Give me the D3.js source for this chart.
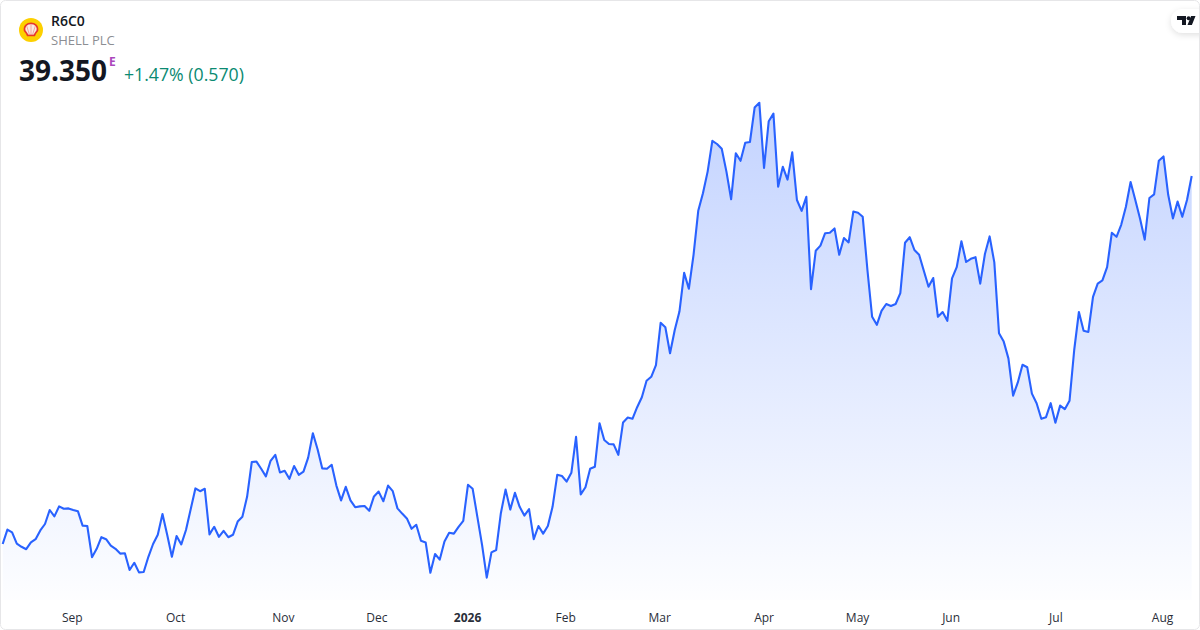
<!DOCTYPE html>
<html>
<head>
<meta charset="utf-8">
<title>R6C0</title>
<script src="https://cdn.jsdelivr.net/npm/d3@7"></script>
<style>
  html, body { margin: 0; padding: 0; background: #fff; }
  svg { display: block; font-family: "Open Sans", sans-serif; }
  .x-axis path, .x-axis line { display: none; }
  .x-axis text { font-size: 12px; fill: #2a2e39; }
</style>
</head>
<body>
<svg id="chart" width="1200" height="630"></svg>
<script>
// closing prices, one per session
var prices = [
  30.15,30.51,30.44,30.16,30.08,30.02,30.19,30.27,30.49,30.65,31.00,30.84,31.09,31.03,31.04,31.00,
  30.97,30.61,30.60,29.82,30.03,30.32,30.27,30.11,30.03,29.91,29.92,29.50,29.68,29.44,29.45,29.83,
  30.15,30.38,30.90,30.38,29.83,30.35,30.14,30.50,31.02,31.54,31.47,31.53,30.39,30.58,30.33,30.48,
  30.32,30.38,30.71,30.83,31.33,32.20,32.21,32.03,31.84,32.23,32.38,31.94,31.98,31.78,32.10,31.88,
  31.96,32.31,32.92,32.52,32.04,32.03,32.13,31.61,31.24,31.58,31.24,31.07,31.09,31.10,30.98,31.34,
  31.46,31.22,31.61,31.47,31.04,30.91,30.79,30.53,30.63,30.23,30.19,29.43,29.90,29.76,30.21,30.43,
  30.41,30.58,30.73,31.63,31.53,30.83,30.13,29.31,29.94,30.00,30.92,31.51,31.01,31.43,31.08,30.86,
  31.02,30.27,30.60,30.41,30.60,31.08,31.88,31.85,31.71,31.93,32.83,31.39,31.57,32.03,32.08,33.17,
  32.75,32.65,32.64,32.38,33.19,33.31,33.28,33.57,33.82,34.23,34.33,34.62,35.68,35.57,34.92,35.50,
  35.96,36.93,36.53,37.38,38.48,38.92,39.46,40.23,40.15,40.03,39.46,38.77,39.92,39.73,40.18,40.20,
  41.06,41.18,39.55,40.72,40.91,39.08,39.58,39.26,39.94,38.75,38.48,38.83,36.52,37.48,37.61,37.92,
  37.93,38.04,37.38,37.80,37.69,38.46,38.43,38.33,37.00,35.83,35.63,35.98,36.15,36.10,36.15,36.42,
  37.68,37.82,37.50,37.38,36.98,36.58,36.80,35.83,35.95,35.73,36.79,37.07,37.72,37.20,37.28,37.32,
  36.66,37.40,37.84,37.19,35.42,35.21,34.79,33.86,34.19,34.63,34.57,33.91,33.67,33.28,33.32,33.67,
  33.18,33.61,33.52,33.73,35.00,35.95,35.48,35.45,36.33,36.66,36.74,37.07,37.93,37.83,38.13,38.58,
  39.20,38.75,38.29,37.76,38.80,38.89,39.73,39.84,38.88,38.29,38.71,38.33,38.75,39.35
];
var tickLabels = ["Sep", "Oct", "Nov", "Dec", "2026", "Feb", "Mar", "Apr", "May", "Jun", "Jul", "Aug"];
var tickSessions = [14.7, 36.7, 59.6, 79.5, 98.8, 119.7, 139.7, 161.9, 181.8, 201.7, 224, 246.7];

var width = 1200, height = 630, baseline = 600;
var svg = d3.select("#chart");

var x = d3.scaleLinear().domain([0, prices.length - 1]).range([2.7, 1191.7]);
var y = d3.scaleLinear().domain([28.75, 43.75]).range([baseline, 0]);

// card
svg.append("rect")
  .attr("x", 0.5).attr("y", 0.5)
  .attr("width", width - 1).attr("height", height - 1)
  .attr("rx", 5)
  .attr("fill", "#fff");

var defs = svg.append("defs");
var grad = defs.append("linearGradient")
  .attr("id", "areaFill")
  .attr("gradientUnits", "userSpaceOnUse")
  .attr("x1", 0).attr("x2", 0)
  .attr("y1", y(d3.max(prices))).attr("y2", baseline);
grad.append("stop").attr("offset", 0).attr("stop-color", "#2962ff").attr("stop-opacity", 0.28);
grad.append("stop").attr("offset", 1).attr("stop-color", "#2962ff").attr("stop-opacity", 0.01);

var shadow = defs.append("filter").attr("id", "pillShadow")
  .attr("x", "-30%").attr("y", "-50%").attr("width", "160%").attr("height", "220%");
shadow.append("feDropShadow")
  .attr("dx", 0).attr("dy", 2).attr("stdDeviation", 3)
  .attr("flood-color", "#000").attr("flood-opacity", 0.12);

var area = d3.area()
  .x(function(d, i) { return x(i); })
  .y0(baseline)
  .y1(function(d) { return y(d); });

var line = d3.line()
  .x(function(d, i) { return x(i); })
  .y(function(d) { return y(d); });

svg.append("path").datum(prices)
  .attr("d", area)
  .attr("fill", "url(#areaFill)");

svg.append("path").datum(prices)
  .attr("d", line)
  .attr("fill", "none")
  .attr("stroke", "#2962ff")
  .attr("stroke-width", 2.1)
  .attr("stroke-linejoin", "round");

// month axis
var xAxis = d3.axisBottom(x)
  .tickValues(tickSessions)
  .tickSize(0)
  .tickPadding(0)
  .tickFormat(function(d, i) { return tickLabels[i]; });

var axisG = svg.append("g")
  .attr("class", "x-axis")
  .attr("transform", "translate(0,613)")
  .call(xAxis);
axisG.attr("font-family", null).attr("font-size", null);
axisG.selectAll("text")
  .attr("font-weight", function(d, i) { return tickLabels[i] === "2026" ? 700 : 400; });

// header
var logo = svg.append("g").attr("transform", "translate(31,30)");
logo.append("circle").attr("r", 12).attr("fill", "#fdd000");
logo.append("path")
  .attr("d", "M-6.4,0.6 C-7.2,-4.6 -3.6,-6.6 0,-6.6 C3.6,-6.6 7.2,-4.6 6.4,0.6 L4.2,3.6 L3.4,5.4 L-3.4,5.4 L-4.2,3.6 Z")
  .attr("fill", "#f9e9e2")
  .attr("stroke", "#e8372c")
  .attr("stroke-width", 1.7);
logo.append("path")
  .attr("d", "M0,4.6 L0,-5.4 M-1.6,4.6 L-4.2,-3.8 M1.6,4.6 L4.2,-3.8")
  .attr("stroke", "#f0a097")
  .attr("stroke-width", 0.9)
  .attr("fill", "none");

svg.append("text").attr("x", 51).attr("y", 26)
  .attr("font-size", 14).attr("font-weight", 600).attr("fill", "#131722")
  .text("R6C0");
svg.append("text").attr("x", 51).attr("y", 45)
  .attr("font-size", 13).attr("fill", "#8c8e93")
  .text("SHELL PLC");
svg.append("text").attr("x", 19).attr("y", 81)
  .attr("font-size", 28).attr("font-weight", 700).attr("fill", "#131722")
  .text("39.350");
svg.append("text").attr("x", 109).attr("y", 66)
  .attr("font-size", 12).attr("font-weight", 700).attr("fill", "#ab47bc")
  .text("E");
svg.append("text").attr("x", 124).attr("y", 81)
  .attr("font-size", 17.7).attr("fill", "#0b8a72")
  .text("+1.47% (0.570)");

// badge top right
svg.append("rect")
  .attr("x", 1171).attr("y", 9).attr("width", 50).attr("height", 24).attr("rx", 12)
  .attr("fill", "#fff")
  .attr("filter", "url(#pillShadow)");
svg.append("path")
  .attr("d", "M1177,16 h9 v9 h-4 v-5 h-5 Z M1187.5,25 l3.6,-9 h4.4 l-3.6,9 Z")
  .attr("fill", "#131722");
svg.append("circle").attr("cx", 1188.6).attr("cy", 18.2).attr("r", 2).attr("fill", "#131722");

// card border goes over everything
svg.append("rect")
  .attr("x", 0.5).attr("y", 0.5)
  .attr("width", width - 1).attr("height", height - 1)
  .attr("rx", 5)
  .attr("fill", "none")
  .attr("stroke", "#e6e6e8");
</script>
</body>
</html>
